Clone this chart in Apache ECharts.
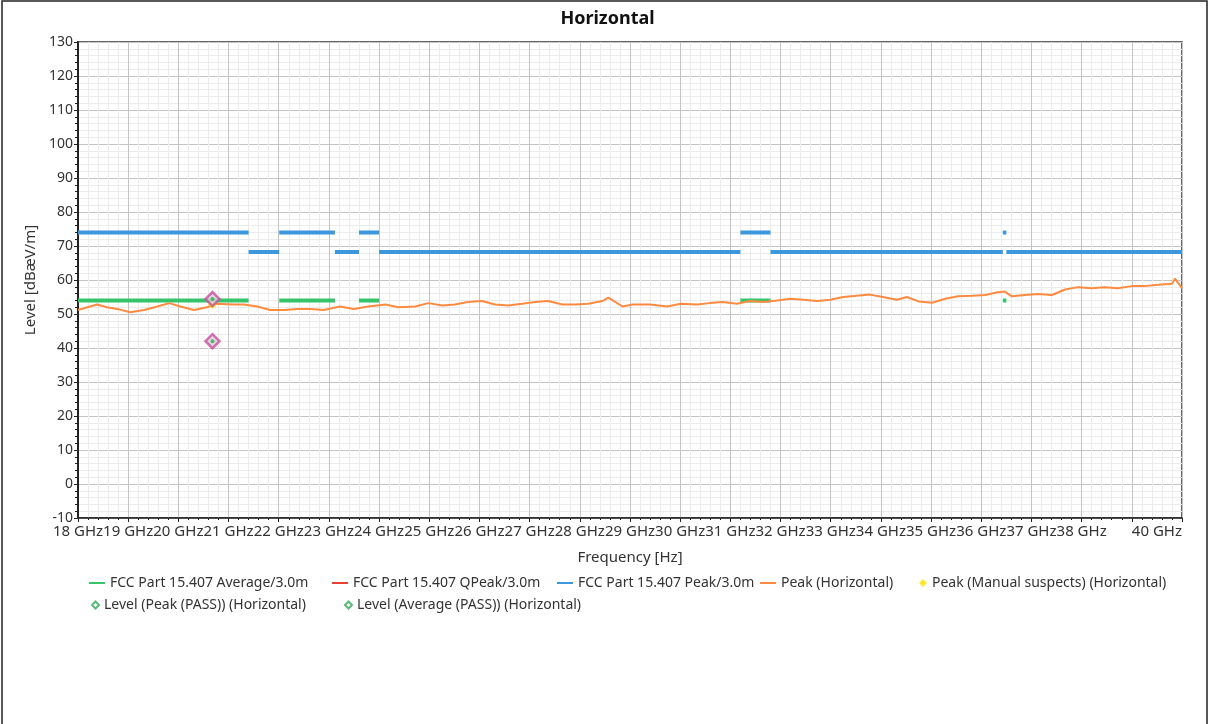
<!DOCTYPE html>
<html>
<head>
<meta charset="utf-8">
<script src="https://cdn.jsdelivr.net/npm/echarts@6/dist/echarts.min.js"></script>
<style>
html,body{margin:0;padding:0;background:#fff;}
#c{width:1215px;height:724px;}
</style>
</head>
<body>
<div id="c"></div>
<script>
// ---- data ----
var traceFreq = [18.00,18.38,18.58,18.78,19.04,19.32,19.58,19.82,20.04,20.31,20.57,20.77,21.11,21.31,21.57,21.83,22.11,22.37,22.63,22.90,23.22,23.50,23.78,24.13,24.38,24.72,24.98,25.26,25.51,25.77,26.05,26.31,26.57,26.85,27.11,27.37,27.65,27.91,28.17,28.45,28.57,28.85,29.05,29.40,29.74,30.01,30.34,30.59,30.85,31.13,31.39,31.65,31.93,32.19,32.45,32.73,32.99,33.25,33.52,33.78,34.04,34.32,34.52,34.75,35.02,35.28,35.54,35.82,36.08,36.33,36.47,36.61,36.87,37.13,37.41,37.67,37.93,38.20,38.46,38.72,39.00,39.26,39.52,39.80,39.86,40.00];
var traceLevel = [51.2,52.8,52.0,51.5,50.5,51.2,52.2,53.2,52.2,51.2,52.0,53.0,52.8,52.8,52.2,51.2,51.2,51.5,51.5,51.2,52.2,51.5,52.2,52.8,52.0,52.2,53.2,52.5,52.8,53.5,53.8,52.8,52.5,53.0,53.5,53.8,52.8,52.8,53.0,53.8,54.8,52.2,52.8,52.8,52.2,53.0,52.8,53.2,53.5,53.0,53.8,53.5,54.0,54.5,54.2,53.8,54.2,55.0,55.4,55.7,55.0,54.2,55.0,53.7,53.3,54.5,55.2,55.4,55.6,56.4,56.6,55.2,55.6,55.9,55.6,57.2,57.9,57.6,57.9,57.6,58.2,58.2,58.6,58.9,60.4,57.6];

var peakLimStart = [18.00,21.40,22.01,23.12,23.60,24.00,31.20,31.80,36.43,36.50];
var peakLimEnd   = [21.40,22.01,23.12,23.60,24.00,31.20,31.80,36.43,36.50,40.00];
var peakLimLevel = [74,68.2,74,68.2,74,68.2,74,68.2,74,68.2];

var avgLimStart = [18.00,22.01,23.60,31.20,36.43];
var avgLimEnd   = [21.40,23.12,24.00,31.80,36.50];
var avgLimLevel = [54,54,54,54,54];

var suspectFreq = [20.68];
var suspectLevel = [52.8];
var peakPassFreq = [20.68];
var peakPassLevel = [54.4];
var avgPassFreq = [20.68];
var avgPassLevel = [42.0];

var seriesNames = ['FCC Part 15.407 Average/3.0m','FCC Part 15.407 QPeak/3.0m','FCC Part 15.407 Peak/3.0m','Peak (Horizontal)','Peak (Manual suspects) (Horizontal)','Level (Peak (PASS)) (Horizontal)','Level (Average (PASS)) (Horizontal)'];

// ---- helpers ----
function segs(s,e,l){var d=[];for(var i=0;i<s.length;i++){d.push([s[i],l[i]]);d.push([e[i],l[i]]);d.push([e[i],null]);}return d;}
function pairs(x,y){return x.map(function(v,i){return [v,y[i]];});}

var cGreen='#36c46a', cRed='#e8412f', cBlue='#3d97dc', cOrange='#ff8a40', cYellow='#ffe100', cMag='#c84f9f';
var font='"Noto Sans", sans-serif';
var legTxt={fontSize:14,color:'#333',fontFamily:font};

// legend layout (one legend per item, placed like the reference)
var legPos=[[84,571],[327,571],[552,571],[755,571],[914,571],[86,593],[339,593]];
var legends=seriesNames.map(function(n,i){
  var item={name:n};
  var L={data:[item],left:legPos[i][0],top:legPos[i][1],textStyle:legTxt,itemGap:0};
  if(i<4){item.icon='rect';L.itemWidth=16;L.itemHeight=2;}
  else if(i===4){item.icon='diamond';item.itemStyle={color:cYellow};L.itemWidth=8;L.itemHeight=8;}
  else {item.icon='diamond';item.itemStyle={color:'#fff',borderColor:'#2eaa57',borderWidth:2};L.itemWidth=7;L.itemHeight=7;}
  return L;
});

var chart = echarts.init(document.getElementById('c'));
chart.setOption({
  animation:false,
  backgroundColor:'#fff',
  textStyle:{fontFamily:font},
  title:{text:'Horizontal',left:'center',top:5,textStyle:{fontSize:18,fontWeight:'bold',color:'#111',fontFamily:font}},
  graphic:[{type:'rect',shape:{x:2,y:1,width:1205,height:730},style:{fill:'none',stroke:'#222',lineWidth:1.5},silent:true}],
  grid:{left:78,top:42,right:33,bottom:206,show:true,borderColor:'#333',borderWidth:1.5},
  legend:legends,
  xAxis:{type:'value',min:18,max:40,interval:1,
    name:'Frequency [Hz]',nameLocation:'middle',nameGap:32,nameTextStyle:{fontSize:15,color:'#333',fontFamily:font},
    axisLine:{show:true,onZero:false,lineStyle:{color:'#222',width:1.5}},
    axisTick:{show:true,length:4,inside:false,lineStyle:{color:'#222'}},
    minorTick:{show:true,splitNumber:5,length:2,lineStyle:{color:'#222'}},
    splitLine:{show:true,lineStyle:{color:'#c4c4c4',width:1}},
    minorSplitLine:{show:true,lineStyle:{color:'#ececec',width:1}},
    axisLabel:{fontSize:15,color:'#333',margin:6,alignMaxLabel:'right',fontFamily:font,hideOverlap:false,
      formatter:function(v){return v===39?'':(v+' GHz');}}
  },
  yAxis:{type:'value',min:-10,max:130,interval:10,
    name:'Level [dBæV/m]',nameLocation:'middle',nameGap:36,nameTextStyle:{fontSize:15,color:'#333',fontFamily:font},
    axisLine:{show:true,onZero:false,lineStyle:{color:'#222',width:2}},
    axisTick:{show:true,length:4,lineStyle:{color:'#222'}},
    minorTick:{show:true,splitNumber:5,length:3,lineStyle:{color:'#222'}},
    splitLine:{show:true,lineStyle:{color:'#c4c4c4',width:1}},
    minorSplitLine:{show:true,lineStyle:{color:'#ececec',width:1}},
    axisLabel:{fontSize:14,color:'#333',margin:5,fontFamily:font}
  },
  series:[
    {name:seriesNames[0],type:'line',data:segs(avgLimStart,avgLimEnd,avgLimLevel),showSymbol:false,connectNulls:false,color:cGreen,lineStyle:{width:4,cap:'butt'},z:2},
    {name:seriesNames[1],type:'line',data:[],showSymbol:false,color:cRed,lineStyle:{width:2}},
    {name:seriesNames[2],type:'line',data:segs(peakLimStart,peakLimEnd,peakLimLevel),showSymbol:false,connectNulls:false,color:cBlue,lineStyle:{width:4,cap:'butt'},z:2},
    {name:seriesNames[3],type:'line',data:pairs(traceFreq,traceLevel),showSymbol:false,color:cOrange,lineStyle:{width:2},z:3},
    {name:seriesNames[4],type:'scatter',data:pairs(suspectFreq,suspectLevel),symbol:'diamond',symbolSize:9,itemStyle:{color:cYellow},z:4},
    {name:seriesNames[5],type:'scatter',data:pairs(peakPassFreq,peakPassLevel),symbol:'diamond',symbolSize:14,itemStyle:{color:'#ddd0da',borderColor:cMag,borderWidth:2.5},z:5},
    {name:seriesNames[6],type:'scatter',data:pairs(avgPassFreq,avgPassLevel),symbol:'diamond',symbolSize:14,itemStyle:{color:'#ddd0da',borderColor:cMag,borderWidth:2.5},z:5},
    {name:'dot1',type:'scatter',data:pairs(peakPassFreq,peakPassLevel),symbol:'circle',symbolSize:4,itemStyle:{color:'#2eaa57'},z:6},
    {name:'dot2',type:'scatter',data:pairs(avgPassFreq,avgPassLevel),symbol:'circle',symbolSize:4,itemStyle:{color:'#2eaa57'},z:6}
  ]
});
</script>
</body>
</html>
